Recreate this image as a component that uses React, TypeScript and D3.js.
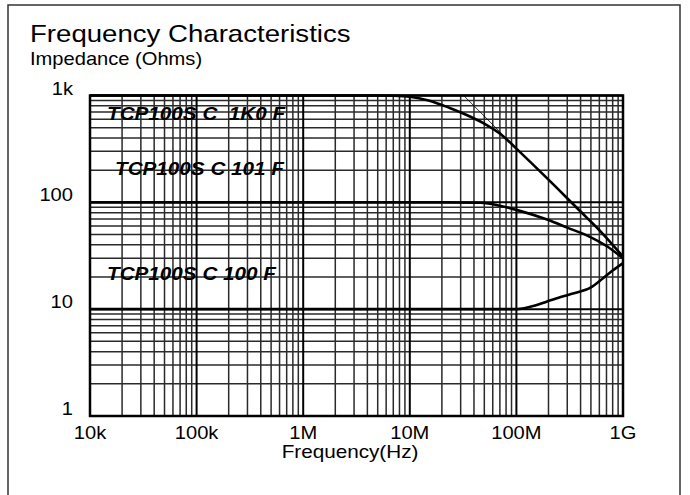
import * as d3 from 'd3';

// axis ticks
const freqTickValues = [1e4, 1e5, 1e6, 1e7, 1e8, 1e9];
const freqTickLabels = ['10k', '100k', '1M', '10M', '100M', '1G'];
const impTickValues = [1, 10, 100, 1000];
const impTickLabels = ['1', '10', '100', '1k'];

// TCP100S C 1K0 F
const freq1K0 = [1e4, 5e6, 7e6, 1e7, 1.5e7, 2.4e7, 3.5e7, 4.9e7, 7.6e7, 1e8, 2e8, 4e8, 6e8, 1e9];
const imp1K0 = [1000, 1000, 995, 975, 900, 760, 650, 550, 412, 318, 163, 82, 55, 31];
// TCP100S C 101 F
const freq101 = [1e4, 2e7, 4.6e7, 7e7, 1e8, 1.94e8, 3e8, 5e8, 7e8, 1e9];
const imp101 = [100, 100, 99, 93, 85, 69, 58, 47, 39, 30];
// TCP100S C 100 F
const freq100 = [1e4, 1e8, 1.5e8, 1.94e8, 2.6e8, 3.47e8, 5e8, 6.5e8, 8e8, 1e9];
const imp100 = [10, 10, 10.8, 11.8, 13, 14.1, 16, 19.5, 23, 27];
// thin reference line (ideal)
const freqIdeal = [3.2e7, 1e9];
const impIdeal = [1000, 32];

const labels = ['TCP100S C  1K0 F', 'TCP100S C 101 F', 'TCP100S C 100 F'];

const SX = 1.15; // reference text is a bit wide

function T({ x, y, size, anchor = 'start', bold = false, italic = false, children }: any) {
  return (
    <text
      transform={`translate(${x},${y}) scale(${SX},1)`}
      fontFamily="'Liberation Sans', Arial, sans-serif"
      fontSize={size}
      fontWeight={bold ? 'bold' : 'normal'}
      fontStyle={italic ? 'italic' : 'normal'}
      textAnchor={anchor}
      style={{ whiteSpace: 'pre' }}
      fill="#000"
    >
      {children}
    </text>
  );
}

export default function App() {
  const width = 690;
  const height = 495;
  const x = d3.scaleLog().domain([1e4, 1e9]).range([90, 623]);
  const y = d3.scaleLog().domain([1, 1000]).range([416, 95.5]);

  const isDecade = (v: number) => Math.abs(Math.log10(v) - Math.round(Math.log10(v))) < 1e-9;
  const xGrid = x.ticks();
  const yGrid = y.ticks();

  const line = d3
    .line<[number, number]>()
    .x((d) => x(d[0]))
    .y((d) => y(d[1]))
    .curve(d3.curveMonotoneX);

  const zip = (f: number[], z: number[]) => f.map((v, i) => [v, z[i]] as [number, number]);
  const series = [zip(freq1K0, imp1K0), zip(freq101, imp101), zip(freq100, imp100)];

  const [x0, x1] = x.range();
  const [y0, y1] = y.range();

  return (
    <svg width={width} height={height} style={{ position: 'absolute', left: 0, top: 0, background: '#fff' }}>
      <rect x={8} y={5} width={672} height={520} fill="#fff" stroke="#333" strokeWidth={1.5} />

      <T x={30} y={42} size={24}>Frequency Characteristics</T>
      <T x={30} y={65} size={17.5}>Impedance (Ohms)</T>

      {/* minor grid */}
      {xGrid.filter((v) => !isDecade(v)).map((v, i) => (
        <line key={'xm' + i} x1={x(v)} x2={x(v)} y1={y1} y2={y0} stroke="#2a2a2a" strokeWidth={1.5} />
      ))}
      {yGrid.filter((v) => !isDecade(v)).map((v, i) => (
        <line key={'ym' + i} x1={x0} x2={x1} y1={y(v)} y2={y(v)} stroke="#2a2a2a" strokeWidth={1.5} />
      ))}
      {/* decade grid */}
      {freqTickValues.map((v, i) => (
        <line key={'xd' + i} x1={x(v)} x2={x(v)} y1={y1} y2={y0} stroke="#000" strokeWidth={2} />
      ))}
      {impTickValues.map((v, i) => (
        <line key={'yd' + i} x1={x0} x2={x1} y1={y(v)} y2={y(v)} stroke="#000" strokeWidth={2} />
      ))}
      <rect x={x0} y={y1} width={x1 - x0} height={y0 - y1} fill="none" stroke="#000" strokeWidth={2.5} />

      {/* labels of the parts */}
      <T x={107} y={120} size={18} bold italic>{labels[0]}</T>
      <T x={115} y={175} size={18} bold italic>{labels[1]}</T>
      <T x={107} y={280} size={18} bold italic>{labels[2]}</T>

      {/* curves */}
      <path d={line(zip(freqIdeal, impIdeal)) || ''} fill="none" stroke="#000" strokeWidth={0.8} />
      {series.map((s, i) => (
        <path key={i} d={line(s) || ''} fill="none" stroke="#000" strokeWidth={2.6} strokeLinejoin="round" />
      ))}

      {/* y tick labels */}
      {impTickValues.map((v, i) => (
        <T key={'yl' + i} x={73} y={y(v) - 1} size={17.5} anchor="end">{impTickLabels[i]}</T>
      ))}
      {/* x tick labels */}
      {freqTickValues.map((v, i) => (
        <T key={'xl' + i} x={x(v)} y={439} size={17.5} anchor="middle">{freqTickLabels[i]}</T>
      ))}
      <T x={350} y={458} size={18} anchor="middle">Frequency(Hz)</T>
    </svg>
  );
}
